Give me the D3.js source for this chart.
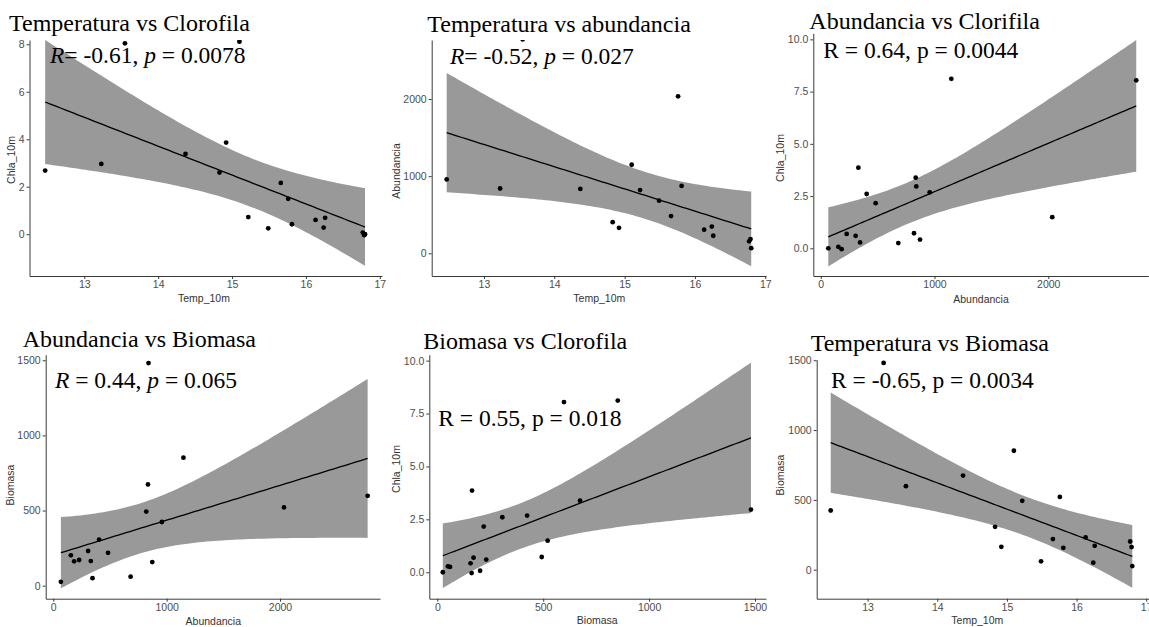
<!DOCTYPE html>
<html>
<head>
<meta charset="utf-8">
<script src="https://cdn.jsdelivr.net/npm/d3@7"></script>
<style>
  body { margin: 0; background: #fff; }
  svg { display: block; }
</style>
</head>
<body>
<svg id="chart" width="1149" height="627"></svg>
<script>
// 18 estaciones, mismos datos en los seis paneles
var temp = [12.47, 13.23, 13.55, 14.37, 14.83, 14.92, 15.10, 15.22, 15.49, 15.66, 15.76, 15.81, 16.13, 16.24, 16.26, 16.77, 16.79, 16.80]
var chla = [2.68, 2.96, 8.04, 3.38, 2.60, 3.86, 8.11, 0.72, 0.25, 2.16, 1.49, 0.42, 0.60, 0.28, 0.69, 0.07, -0.04, 0.00]
var abundancia = [958, 840, 2773, 835, 404, 331, 1148, 820, 682, 483, 2035, 873, 307, 346, 228, 155, 184, 67]
var biomasa = [424, 1481, 598, 674, 307, 164, 852, 493, 60, 219, 521, 157, 231, 50, 171, 202, 162, 26]

var titles = ['Temperatura vs Clorofila', 'Temperatura vs abundancia', 'Abundancia vs Clorifila',
  'Abundancia vs Biomasa', 'Biomasa vs Clorofila', 'Temperatura vs Biomasa']
var rValues = ['-0.61', '-0.52', '0.64', '0.44', '0.55', '-0.65']
var pValues = ['0.0078', '0.027', '0.0044', '0.065', '0.018', '0.0034']
var xTitles = ['Temp_10m', 'Temp_10m', 'Abundancia', 'Abundancia', 'Biomasa', 'Temp_10m']
var yTitles = ['Chla_10m', 'Abundancia', 'Chla_10m', 'Biomasa', 'Chla_10m', 'Biomasa']
var xTicks = [[13, 14, 15, 16, 17], [13, 14, 15, 16, 17], [0, 1000, 2000], [0, 1000, 2000], [0, 500, 1000, 1500], [13, 14, 15, 16, 17]]
var yTicks = [[0, 2, 4, 6, 8], [0, 1000, 2000], [0, 2.5, 5, 7.5, 10], [0, 500, 1000, 1500], [0, 2.5, 5, 7.5, 10], [0, 500, 1000, 1500]]

var panelX = [temp, temp, abundancia, abundancia, biomasa, temp]
var panelY = [chla, abundancia, chla, biomasa, chla, biomasa]

// label style: italic R / p, and whether there is a space before "="
var statItalic = [true, true, false, true, false, false]
var statGap = ['', '', ' ', ' ', ' ', ' ']

// panel boxes (pixels) and visible domains
var layout = [
  { x0: 29.5, x1: 382, y0: 276, y1: 40, xd: [12.258, 17.03], yd: [-1.76, 8.18],
    title: [9, 31], stat: [50, 63], xt: [204, 302], yt: [11, 160] },
  { x0: 431.7, x1: 766, y0: 276, y1: 40, xd: [12.257, 17.01], yd: [-294, 2765],
    title: [427.3, 31.7], stat: [450, 64], xt: [599.3, 302], yt: [396, 171] },
  { x0: 813.3, x1: 1148.3, y0: 276, y1: 33.3, xd: [-65, 2879], yd: [-1.325, 10.29],
    title: [809.3, 29.3], stat: [823.3, 58.3], xt: [981, 303], yt: [780, 158] },
  { x0: 45.7, x1: 380, y0: 598.7, y1: 354.7, xd: [-67, 2882], yd: [-86.5, 1537],
    title: [22.7, 347.3], stat: [55, 388], xt: [213.3, 624.5], yt: [10, 485] },
  { x0: 429.3, x1: 766, y0: 598.7, y1: 354.7, xd: [-37.8, 1552], yd: [-1.25, 10.28],
    title: [423.3, 349], stat: [438.3, 426.3], xt: [597.3, 624], yt: [396.7, 469] },
  { x0: 816.7, x1: 1149, y0: 598.7, y1: 359.7, xd: [12.269, 17.04], yd: [-207.7, 1504],
    title: [810.7, 350.7], stat: [831, 388], xt: [977.3, 624], yt: [780, 475] }
]

var T_975 = 2.1199 // t quantile, df = 16
var SANS = '"Liberation Sans", Arial, sans-serif'
var SERIF = '"Liberation Serif", "Times New Roman", serif'

var svg = d3.select('#chart')

// linear model + 95% confidence band, like geom_smooth(method = "lm")
function lmFit(xs, ys) {
  var n = xs.length
  var mx = d3.mean(xs), my = d3.mean(ys)
  var sxx = d3.sum(xs, function (v) { return (v - mx) * (v - mx) })
  var sxy = d3.sum(xs, function (v, i) { return (v - mx) * (ys[i] - my) })
  var slope = sxy / sxx
  var intercept = my - slope * mx
  var sse = d3.sum(xs, function (v, i) {
    var e = ys[i] - (intercept + slope * v)
    return e * e
  })
  var s = Math.sqrt(sse / (n - 2))
  return function (v) {
    var yhat = intercept + slope * v
    var se = s * Math.sqrt(1 / n + (v - mx) * (v - mx) / sxx)
    return { x: v, y: yhat, lo: yhat - T_975 * se, hi: yhat + T_975 * se }
  }
}

function tickFmt(ticks) {
  var decimals = ticks.some(function (v) { return v % 1 !== 0 })
  return function (d) { return decimals ? d.toFixed(1) : String(d) }
}

function drawPanel(i) {
  var L = layout[i]
  var xs = panelX[i], ys = panelY[i]
  var x = d3.scaleLinear().domain(L.xd).range([L.x0, L.x1])
  var y = d3.scaleLinear().domain(L.yd).range([L.y0, L.y1])
  var g = svg.append('g')

  svg.append('clipPath').attr('id', 'clip' + i)
    .append('rect')
    .attr('x', L.x0).attr('y', L.y1)
    .attr('width', L.x1 - L.x0).attr('height', L.y0 - L.y1)

  var plot = g.append('g').attr('clip-path', 'url(#clip' + i + ')')

  var f = lmFit(xs, ys)
  var ext = d3.extent(xs)
  var fitted = d3.range(81).map(function (k) {
    return f(ext[0] + (ext[1] - ext[0]) * k / 80)
  })

  plot.append('path')
    .datum(fitted)
    .attr('fill', '#999999')
    .attr('d', d3.area()
      .x(function (d) { return x(d.x) })
      .y0(function (d) { return y(d.lo) })
      .y1(function (d) { return y(d.hi) }))

  plot.append('path')
    .datum(fitted)
    .attr('fill', 'none')
    .attr('stroke', '#000')
    .attr('stroke-width', 1.3)
    .attr('d', d3.line()
      .x(function (d) { return x(d.x) })
      .y(function (d) { return y(d.y) }))

  plot.selectAll('circle')
    .data(xs)
    .enter()
    .append('circle')
    .attr('cx', function (d) { return x(d) })
    .attr('cy', function (d, k) { return y(ys[k]) })
    .attr('r', 2.4)
    .attr('fill', '#000')

  // axes (theme_classic look)
  var xAxis = g.append('g')
    .attr('transform', 'translate(0,' + L.y0 + ')')
    .call(d3.axisBottom(x).tickValues(xTicks[i]).tickSizeInner(3).tickSizeOuter(0).tickPadding(2)
      .tickFormat(tickFmt(xTicks[i])))
  var yAxis = g.append('g')
    .attr('transform', 'translate(' + L.x0 + ',0)')
    .call(d3.axisLeft(y).tickValues(yTicks[i]).tickSizeInner(3).tickSizeOuter(0).tickPadding(2)
      .tickFormat(tickFmt(yTicks[i])))

  ;[xAxis, yAxis].forEach(function (a) {
    a.attr('font-family', SANS).attr('font-size', 10.5)
    a.select('.domain').attr('stroke', '#3a3a3a').attr('stroke-width', 1)
    a.selectAll('.tick line').attr('stroke', '#3a3a3a')
    a.selectAll('.tick text').attr('fill', '#4d4d4d')
  })

  g.append('text')
    .attr('x', L.xt[0]).attr('y', L.xt[1])
    .attr('text-anchor', 'middle')
    .attr('font-family', SANS).attr('font-size', 10.5)
    .attr('fill', '#333')
    .text(xTitles[i])

  g.append('text')
    .attr('transform', 'translate(' + L.yt[0] + ',' + L.yt[1] + ') rotate(-90)')
    .attr('dy', '0.35em')
    .attr('text-anchor', 'middle')
    .attr('font-family', SANS).attr('font-size', 10.5)
    .attr('fill', '#333')
    .text(yTitles[i])

  g.append('text')
    .attr('x', L.title[0]).attr('y', L.title[1])
    .attr('font-family', SERIF).attr('font-size', 24)
    .attr('fill', '#000')
    .text(titles[i])

  var stat = g.append('text')
    .attr('x', L.stat[0]).attr('y', L.stat[1])
    .attr('font-family', SERIF).attr('font-size', 23.5)
    .attr('fill', '#000')
    .style('white-space', 'pre')
  var style = statItalic[i] ? 'italic' : 'normal'
  stat.append('tspan').attr('font-style', style).text('R')
  stat.append('tspan').text(statGap[i] + '= ' + rValues[i] + ', ')
  stat.append('tspan').attr('font-style', style).text('p')
  stat.append('tspan').text(' = ' + pValues[i])
}

for (var i = 0; i < layout.length; i++) {
  drawPanel(i)
}
</script>
</body>
</html>
